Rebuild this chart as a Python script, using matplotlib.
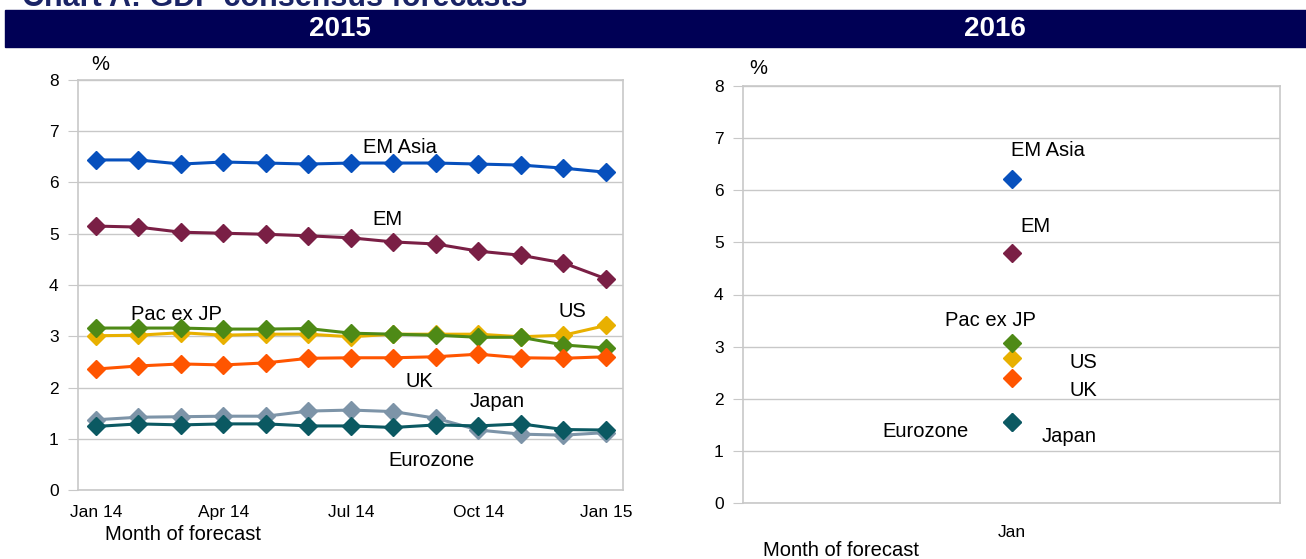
import matplotlib.pyplot as plt
import numpy as np

plt.rcParams['font.family'] = ['Liberation Sans', 'DejaVu Sans']

# Data: 2015 GDP consensus forecasts by month of forecast
months = ['Jan 14', 'Feb 14', 'Mar 14', 'Apr 14', 'May 14', 'Jun 14', 'Jul 14',
          'Aug 14', 'Sep 14', 'Oct 14', 'Nov 14', 'Dec 14', 'Jan 15']
tick_labels = ['Jan 14', 'Apr 14', 'Jul 14', 'Oct 14', 'Jan 15']
tick_idx = [0, 3, 6, 9, 12]

em_asia = [6.44, 6.44, 6.36, 6.40, 6.38, 6.36, 6.38, 6.38, 6.38, 6.36, 6.34, 6.28, 6.20]
em = [5.15, 5.13, 5.03, 5.01, 4.99, 4.96, 4.92, 4.84, 4.80, 4.66, 4.58, 4.43, 4.12]
pac_ex_jp = [3.16, 3.16, 3.16, 3.14, 3.14, 3.15, 3.06, 3.04, 3.02, 2.98, 2.98, 2.83, 2.77]
us = [3.01, 3.02, 3.07, 3.02, 3.04, 3.04, 2.99, 3.04, 3.04, 3.04, 2.99, 3.02, 3.21]
uk = [2.36, 2.42, 2.46, 2.44, 2.48, 2.57, 2.58, 2.58, 2.60, 2.65, 2.58, 2.57, 2.60]
japan = [1.37, 1.42, 1.43, 1.44, 1.44, 1.54, 1.56, 1.53, 1.40, 1.17, 1.09, 1.07, 1.12]
eurozone = [1.24, 1.29, 1.27, 1.29, 1.29, 1.25, 1.25, 1.22, 1.27, 1.25, 1.29, 1.18, 1.17]

# 2016 forecasts (single month)
months_2016 = ['Jan']
em_asia_16 = [6.22]
em_16 = [4.79]
pac_ex_jp_16 = [3.07]
us_16 = [2.78]
uk_16 = [2.39]
japan_16 = [1.55]
eurozone_16 = [1.55]

colors = {
    'EM Asia': '#0750BD',
    'EM': '#7A1F45',
    'Pac ex JP': '#4E8A16',
    'US': '#E8B000',
    'UK': '#FF5500',
    'Japan': '#7D94A8',
    'Eurozone': '#0B5962',
}

series_15 = [('US', us), ('Pac ex JP', pac_ex_jp), ('UK', uk), ('Japan', japan),
             ('Eurozone', eurozone), ('EM', em), ('EM Asia', em_asia)]
series_16 = [('US', us_16), ('Pac ex JP', pac_ex_jp_16), ('UK', uk_16), ('Japan', japan_16),
             ('Eurozone', eurozone_16), ('EM', em_16), ('EM Asia', em_asia_16)]

fig = plt.figure(figsize=(13.06, 5.59), dpi=100)

# title (cut off at top, as in the source) and navy banner
fig.text(22 / 1306, 1 - 6 / 559, 'Chart A: GDP consensus forecasts', fontsize=22,
         fontweight='bold', color='#1a2466', va='baseline', ha='left')
fig.patches.append(plt.Rectangle((5 / 1306, 1 - 47 / 559), 1, 37 / 559,
                                 transform=fig.transFigure, color='#000055', zorder=0))
fig.text(340 / 1306, 1 - 28.5 / 559, '2015', fontsize=20, fontweight='bold', color='white',
         ha='center', va='center')
fig.text(995 / 1306, 1 - 28.5 / 559, '2016', fontsize=20, fontweight='bold', color='white',
         ha='center', va='center')

grid_c = '#C8C8C8'
lab_fs = 14.5


def style_axis(ax):
    ax.set_ylim(0, 8)
    ax.set_yticks(range(0, 9))
    ax.grid(axis='y', color=grid_c, linewidth=1)
    ax.set_axisbelow(True)
    for s in ax.spines.values():
        s.set_color(grid_c)
        s.set_linewidth(1.2)
    ax.tick_params(axis='y', length=7, color=grid_c, labelsize=12.5, pad=7)
    ax.tick_params(axis='x', length=0, labelsize=12.5, pad=11)


# left: 2015
ax1 = fig.add_axes([78 / 1306, 1 - 490 / 559, 545 / 1306, 410 / 559])
x = np.arange(len(months))
for name, vals in series_15:
    ax1.plot(x, vals, color=colors[name], marker='D', markersize=9, linewidth=2.2)
style_axis(ax1)
ax1.set_xlim(-0.42, 12.4)
ax1.set_xticks(tick_idx)
ax1.set_xticklabels(tick_labels)

labels_15 = [('EM Asia', 7.15, 6.69), ('EM', 6.85, 5.27), ('Pac ex JP', 1.9, 3.43),
             ('US', 11.2, 3.49), ('UK', 7.6, 2.11), ('Japan', 9.45, 1.72),
             ('Eurozone', 7.9, 0.57)]
for t, lx, ly in labels_15:
    ax1.text(lx, ly, t, fontsize=lab_fs, ha='center', va='center')
fig.text(100 / 1306, 1 - 65 / 559, '%', fontsize=lab_fs, ha='center', va='center')
fig.text(105 / 1306, 1 - 535 / 559, 'Month of forecast', fontsize=lab_fs, ha='left', va='center')

# right: 2016
ax2 = fig.add_axes([743 / 1306, 1 - 503 / 559, 537 / 1306, 417 / 559])
x2 = np.arange(len(months_2016))
for name, vals in series_16:
    ax2.plot(x2, vals, color=colors[name], marker='D', markersize=9, linestyle='none')
style_axis(ax2)
ax2.set_xlim(-0.5, 0.5)
ax2.set_xticks(x2)
ax2.set_xticklabels(months_2016)
ax2.tick_params(axis='x', pad=16)

labels_16 = [('EM Asia', 0.068, 6.76), ('EM', 0.044, 5.30), ('Pac ex JP', -0.04, 3.51),
             ('US', 0.133, 2.69), ('UK', 0.133, 2.15), ('Eurozone', -0.16, 1.38),
             ('Japan', 0.107, 1.27)]
for t, lx, ly in labels_16:
    ax2.text(lx, ly, t, fontsize=lab_fs, ha='center', va='center')
fig.text(758 / 1306, 1 - 68 / 559, '%', fontsize=lab_fs, ha='center', va='center')
fig.text(763 / 1306, 1 - 550 / 559, 'Month of forecast', fontsize=lab_fs, ha='left', va='center')

fig.savefig('out.png', dpi=100)
